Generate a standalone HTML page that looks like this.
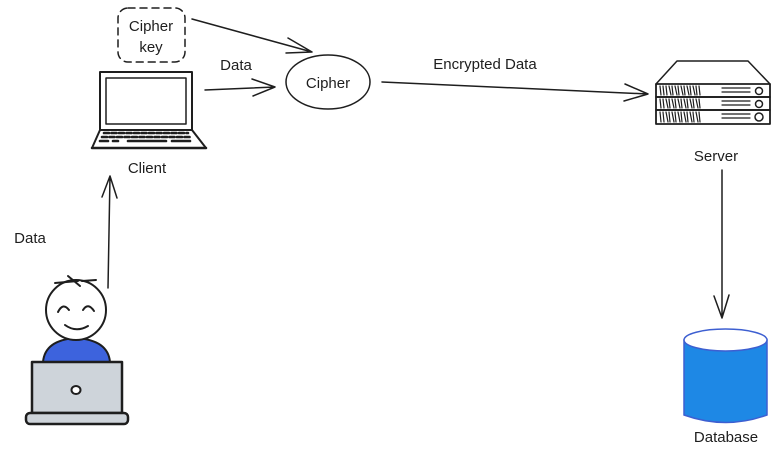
<!DOCTYPE html>
<html><head><meta charset="utf-8"><style>
html,body{margin:0;padding:0;background:#fff}
svg{display:block}
text{font-family:"Comic Sans MS","Liberation Sans",sans-serif;font-size:15px;fill:#1e1e1e}
</style></head><body>
<svg width="779" height="453" viewBox="0 0 779 453" xmlns="http://www.w3.org/2000/svg">
<g fill="none" stroke="#1e1e1e" stroke-width="1.5" stroke-linecap="round" stroke-linejoin="round">
<!-- cipher key box -->
<rect x="118" y="8" width="67" height="54" rx="10" stroke-dasharray="7 5"/>
<!-- laptop client -->
<rect x="100" y="72" width="92" height="58" stroke-width="2"/>
<rect x="106" y="78" width="80" height="46"/>
<path d="M100 130 L92 148 L206 148 L192 130" stroke-width="2"/>
<path d="M92 148 L206 148" stroke-width="2.5"/>
<g stroke-width="2.6">
<path d="M104 133 H188" stroke-dasharray="5 2.5"/>
<path d="M102 137 H190" stroke-dasharray="5 2.5"/>
<path d="M100 141 H108 M113 141 H118 M128 141 H166 M172 141 H190"/>
</g>
<!-- arrows -->
<path d="M192 19 L312 52 M288 38 L312 52 L286 53"/>
<path d="M205 90 L275 87 M252 79 L275 87 L253 96"/>
<ellipse cx="328" cy="82" rx="42" ry="27"/>
<path d="M382 82 L648 94 M625 84 L648 94 L624 101"/>
<path d="M108 288 L110 176 M102 197 L110 176 L117 198"/>
<path d="M722 170 L722 318 M714 296 L722 318 L729 295"/>
<!-- server -->
<path d="M656 84 L677 61 L748 61 L770 84"/>
<rect x="656" y="84" width="114" height="13" stroke-width="1.8"/>
<rect x="656" y="97" width="114" height="13" stroke-width="1.8"/>
<rect x="656" y="110" width="114" height="14" stroke-width="1.8"/>
<g stroke-width="1.2">
<path d="M660 86 l1 9 M663 86 l1 9 M666 86 l1 9 M669 86 l2 9 M672 86 l1 9 M675 86 l2 9 M678 86 l1 9 M681 86 l2 9 M684 86 l1 9 M687 86 l2 9 M690 86 l1 9 M693 86 l2 9 M696 86 l1 9 M699 86 l1 9"/>
<path d="M660 99 l1 9 M663 99 l1 9 M666 99 l2 9 M669 99 l1 9 M672 99 l2 9 M675 99 l1 9 M678 99 l2 9 M681 99 l1 9 M684 99 l2 9 M687 99 l1 9 M690 99 l2 9 M693 99 l1 9 M696 99 l2 9 M699 99 l1 9"/>
<path d="M660 112 l1 10 M663 112 l1 10 M666 112 l2 10 M669 112 l1 10 M672 112 l2 10 M675 112 l1 10 M678 112 l2 10 M681 112 l1 10 M684 112 l2 10 M687 112 l1 10 M690 112 l2 10 M693 112 l1 10 M696 112 l2 10 M699 112 l1 10"/>
<path d="M722 88 H750 M722 92 H750 M722 101 H750 M722 105 H750 M722 114 H750 M722 118 H750"/>
</g>
<circle cx="759" cy="91" r="3.5"/><circle cx="759" cy="104" r="3.5"/><circle cx="759" cy="117" r="4"/>
</g>
<!-- database -->
<path d="M684 340 L684 415 Q726 430 767 415 L767 340 Z" fill="#1e88e5" stroke="#3d5fd1" stroke-width="1.5"/>
<ellipse cx="725.5" cy="340" rx="41.5" ry="11" fill="#fff" stroke="#3d5fd1" stroke-width="1.5"/>
<!-- person -->
<g stroke="#1e1e1e" stroke-linecap="round" stroke-linejoin="round">
<path d="M43 362 Q45 340 76 338 Q108 340 110 362 Z" fill="#3d63dd" stroke-width="2"/>
<circle cx="76" cy="310" r="30" fill="#fff" stroke-width="2"/>
<path d="M55 283 L78 281 M68 276 L80 286 M82 281 L96 280" fill="none" stroke-width="2"/>
<path d="M58 312 Q63 302 69 310 M83 310 Q88 302 94 311" fill="none" stroke-width="2"/>
<path d="M65 325 Q76 333 88 326" fill="none" stroke-width="2"/>
<rect x="32" y="362" width="90" height="51" fill="#ced4da" stroke-width="2.5"/>
<ellipse cx="76" cy="390" rx="4.5" ry="4" fill="#fff" stroke-width="2"/>
<rect x="26" y="413" width="102" height="11" rx="4" fill="#ced4da" stroke-width="2.5"/>
</g>
<!-- labels -->
<text x="151" y="31" text-anchor="middle">Cipher</text>
<text x="151" y="52" text-anchor="middle">key</text>
<text x="236" y="70" text-anchor="middle">Data</text>
<text x="328" y="88" text-anchor="middle">Cipher</text>
<text x="485" y="69" text-anchor="middle">Encrypted Data</text>
<text x="147" y="173" text-anchor="middle">Client</text>
<text x="30" y="243" text-anchor="middle">Data</text>
<text x="716" y="161" text-anchor="middle">Server</text>
<text x="726" y="442" text-anchor="middle">Database</text>
</svg>
</body></html>
